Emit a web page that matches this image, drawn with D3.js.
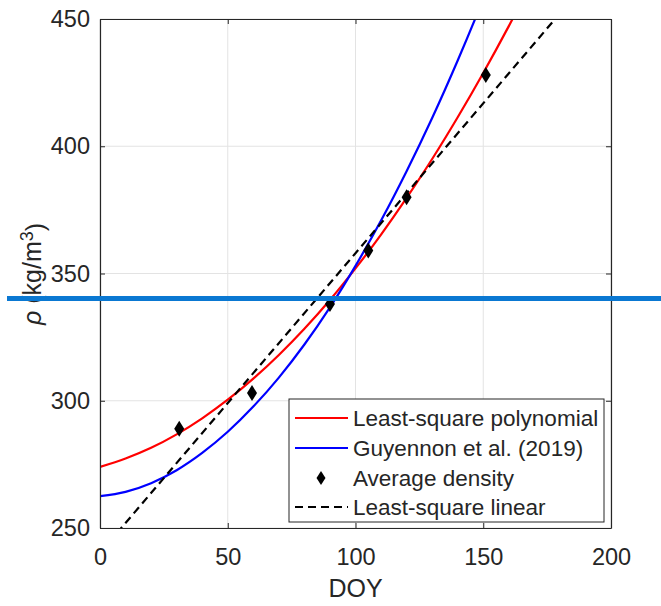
<!DOCTYPE html>
<html>
<head>
<meta charset="utf-8">
<script src="https://cdn.jsdelivr.net/npm/d3@7"></script>
<style>
  body { margin: 0; background: #fff; }
  text { font-family: "Liberation Sans", Arial, Helvetica, sans-serif; fill: #262626; }
</style>
</head>
<body>
<script>
// values
var xTicks = [0, 50, 100, 150, 200];
var yTicks = [250, 300, 350, 400, 450];

var pointDoy = [31, 59.5, 90, 105, 120, 151];
var pointRho = [289, 303, 338, 359, 380, 428];

var curveDoy = [0, 10, 20, 30, 40, 50, 60, 70, 80, 90, 100, 110, 120, 130, 140, 150, 160, 170];
var polyRho  = [274, 277.3, 281.5, 286.8, 293.1, 300.4, 308.7, 318, 328.3, 339.6, 352, 365.3, 379.7, 395, 411.4, 428.8, 447.2, 466.6];
var guyRho   = [262.5, 264.2, 267.6, 272.7, 279.5, 287.8, 297.7, 309.1, 322.1, 336.7, 353, 370.8, 390.2, 411.1, 433.7, 457.9, 484, 512];

var linDoy = [0, 180];
var linRho = [240.2, 452.2];

var refRho = 340.2;

var legendLabels = ["Least-square polynomial", "Guyennon et al. (2019)", "Average density", "Least-square linear"];

var W = 661, H = 606;
var svg = d3.select("body").append("svg")
    .attr("width", W)
    .attr("height", H);

var x = d3.scaleLinear().domain([0, 200]).range([100, 611]);
var y = d3.scaleLinear().domain([250, 450]).range([528, 19]);

// grid
svg.append("g").selectAll("line")
    .data(xTicks)
    .enter().append("line")
    .attr("x1", function(d) { return x(d); })
    .attr("x2", function(d) { return x(d); })
    .attr("y1", y(250)).attr("y2", y(450))
    .attr("stroke", "#e3e3e3").attr("stroke-width", 1);
svg.append("g").selectAll("line")
    .data(yTicks)
    .enter().append("line")
    .attr("y1", function(d) { return y(d); })
    .attr("y2", function(d) { return y(d); })
    .attr("x1", x(0)).attr("x2", x(200))
    .attr("stroke", "#e3e3e3").attr("stroke-width", 1);

// clipped plot content
svg.append("clipPath").attr("id", "clip")
  .append("rect")
    .attr("x", x(0)).attr("y", y(450))
    .attr("width", x(200) - x(0)).attr("height", y(250) - y(450));

var plot = svg.append("g").attr("clip-path", "url(#clip)");

var line = d3.line()
    .x(function(d) { return x(d[0]); })
    .y(function(d) { return y(d[1]); })
    .curve(d3.curveMonotoneX);

plot.append("path")
    .datum(d3.zip(curveDoy, polyRho))
    .attr("d", line)
    .attr("fill", "none").attr("stroke", "#ff0000").attr("stroke-width", 2.2);

plot.append("path")
    .datum(d3.zip(curveDoy, guyRho))
    .attr("d", line)
    .attr("fill", "none").attr("stroke", "#0000ff").attr("stroke-width", 2.2);

plot.append("path")
    .datum(d3.zip(linDoy, linRho))
    .attr("d", line)
    .attr("fill", "none").attr("stroke", "#000").attr("stroke-width", 2.2)
    .attr("stroke-dasharray", "8,5");

function diamond(sel) {
  sel.attr("d", "M0,-8L5,0L0,8L-5,0Z").attr("fill", "#000");
}

plot.selectAll(".pt")
    .data(d3.zip(pointDoy, pointRho))
    .enter().append("path")
    .attr("class", "pt")
    .attr("transform", function(d) { return "translate(" + x(d[0]) + "," + y(d[1]) + ")"; })
    .call(diamond);

// axes, MATLAB style box with inward ticks
function styleAxis(g) {
  g.select(".domain").attr("stroke", "#262626").attr("stroke-width", 1.2);
  g.selectAll(".tick line").attr("stroke", "#262626").attr("stroke-width", 1);
  g.selectAll(".tick text").style("font-size", "23.5px").attr("fill", "#262626");
}

svg.append("g")
    .attr("transform", "translate(0," + y(250) + ")")
    .call(d3.axisBottom(x).tickValues(xTicks).tickSize(-5).tickSizeOuter(0).tickPadding(20))
    .call(styleAxis)
    .call(function(g) { g.selectAll(".tick text").attr("dy", "0.71em"); });

svg.append("g")
    .attr("transform", "translate(" + x(0) + ",0)")
    .call(d3.axisLeft(y).tickValues(yTicks).tickSize(-5).tickSizeOuter(0).tickPadding(10))
    .call(styleAxis);

svg.append("g")
    .attr("transform", "translate(0," + y(450) + ")")
    .call(d3.axisTop(x).tickValues(xTicks).tickSize(-5).tickSizeOuter(0).tickFormat(""))
    .call(styleAxis);

svg.append("g")
    .attr("transform", "translate(" + x(200) + ",0)")
    .call(d3.axisRight(y).tickValues(yTicks).tickSize(-5).tickSizeOuter(0).tickFormat(""))
    .call(styleAxis);

// axis labels
svg.append("text")
    .attr("x", (x(0) + x(200)) / 2)
    .attr("y", 597)
    .attr("text-anchor", "middle")
    .style("font-size", "25px")
    .text("DOY");

var yl = svg.append("text")
    .attr("transform", "translate(41," + 274 + ") rotate(-90)")
    .attr("text-anchor", "middle")
    .style("font-size", "25px");
yl.append("tspan").style("font-style", "italic").text("ρ");
yl.append("tspan").text(" (kg/m");
yl.append("tspan").attr("dy", "-0.45em").style("font-size", "18px").text("3");
yl.append("tspan").attr("dy", "0.45em").text(")");

// legend
var lg = svg.append("g");
lg.append("rect")
    .attr("x", 289).attr("y", 399)
    .attr("width", 315).attr("height", 123)
    .attr("fill", "#fff").attr("stroke", "#262626").attr("stroke-width", 1);

var rowY = [418, 448, 478, 507];
var rowStroke = ["#ff0000", "#0000ff", null, "#000"];

legendLabels.forEach(function(lab, i) {
  if (i === 2) {
    lg.append("path")
      .attr("transform", "translate(321," + rowY[i] + ")")
      .attr("d", "M0,-7L4.5,0L0,7L-4.5,0Z").attr("fill", "#000");
  } else {
    lg.append("line")
      .attr("x1", 295).attr("x2", 348)
      .attr("y1", rowY[i]).attr("y2", rowY[i])
      .attr("stroke", rowStroke[i]).attr("stroke-width", 2.2)
      .attr("stroke-dasharray", i === 3 ? "8,5" : null);
  }
  lg.append("text")
    .attr("x", 353).attr("y", rowY[i])
    .attr("dy", "0.35em")
    .style("font-size", "22.5px")
    .text(lab);
});

// horizontal reference line across the whole figure
svg.append("line")
    .attr("x1", 7).attr("x2", W)
    .attr("y1", y(refRho)).attr("y2", y(refRho))
    .attr("stroke", "#0a78d2").attr("stroke-width", 5);
</script>
</body>
</html>
